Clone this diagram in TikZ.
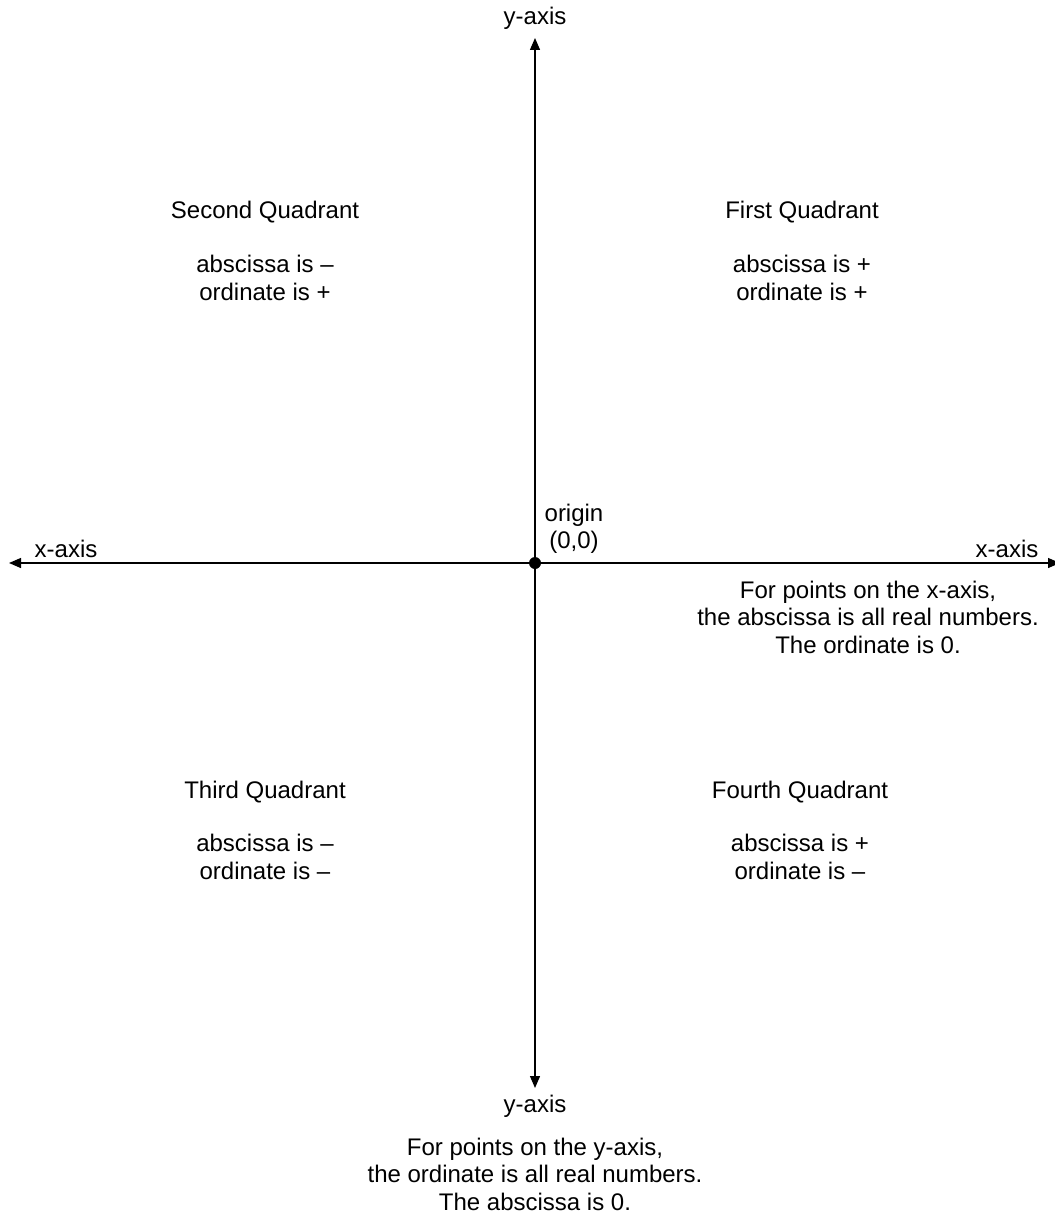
\documentclass[tikz,border=0pt]{standalone}
\usepackage{fontspec}
\setmainfont{Liberation Sans}
\usepackage{tikz}
\usetikzlibrary{arrows.meta}

\tikzset{
  lbl/.style={inner sep=0pt, align=center, font=\fontsize{24}{27.5}\selectfont},
  axisline/.style={line width=1.3pt, {Triangle[length=12pt,width=10pt]}-{Triangle[length=12pt,width=10pt]}}
}

\begin{document}
\begin{tikzpicture}[x=1pt,y=-1pt]
        \useasboundingbox (0,0) rectangle (1054,1217);
        \coordinate (O) at (535,563);
        \coordinate (ytop) at (535,38);
        \coordinate (ybot) at (535,1088);
        \coordinate (xleft) at (9,563);
        \coordinate (xright) at (1060,563);
        \draw[axisline] (ybot) -- (ytop);
        \draw[axisline] (xleft) -- (xright);
        \fill (O) circle (6);
        % axis labels
        \node[lbl] (ylabtop) at (535,18) {y-axis};
        \node[lbl] (ylabbot) at (535,1106) {y-axis};
        \node[lbl] (xlableft) at (66,549) {x-axis};
        \node[lbl] (xlabright) at (1007,549) {x-axis};
        \node[lbl] (origin) at (574,529) {origin\\(0,0)};
        % quadrants
        \node[lbl] (q2) at (265,212) {Second Quadrant};
        \node[lbl] (q2sign) at (265,278) {abscissa is –\\ordinate is +};
        \node[lbl] (q1) at (802,212) {First Quadrant};
        \node[lbl] (q1sign) at (802,278) {abscissa is +\\ordinate is +};
        \node[lbl] (q3) at (265,792) {Third Quadrant};
        \node[lbl] (q3sign) at (265,857) {abscissa is –\\ordinate is –};
        \node[lbl] (q4) at (800,792) {Fourth Quadrant};
        \node[lbl] (q4sign) at (800,857) {abscissa is +\\ordinate is –};
        % notes
        \node[lbl] (xnote) at (868,617) {For points on the x-axis,\\the abscissa is all real numbers.\\The ordinate is 0.};
        \node[lbl] (ynote) at (535,1174) {For points on the y-axis,\\the ordinate is all real numbers.\\The abscissa is 0.};
    \end{tikzpicture}
\end{document}
